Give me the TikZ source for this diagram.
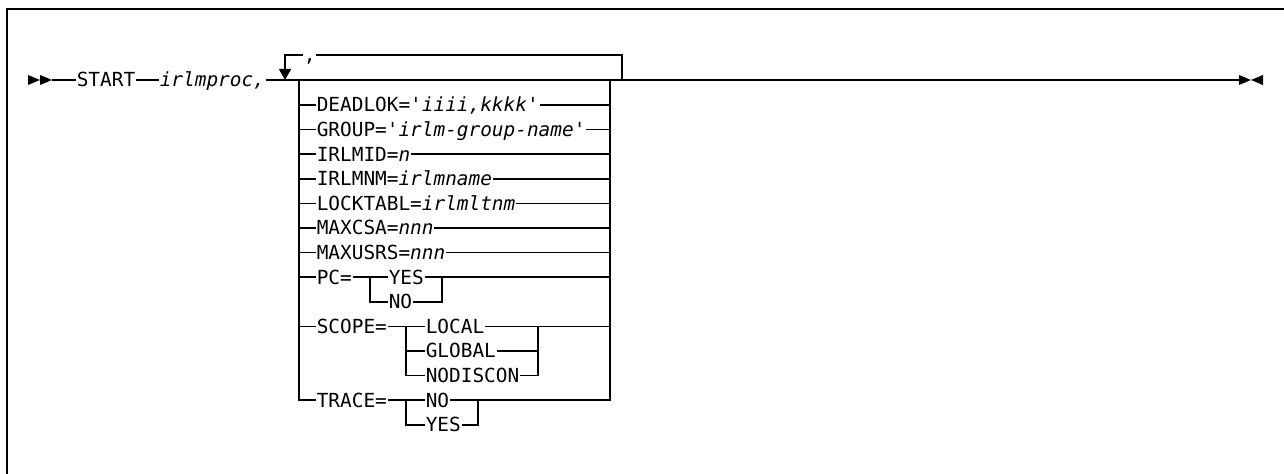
\documentclass[tikz,border=0pt]{standalone}
\usepackage{fontspec}
\setmonofont{DejaVu Sans Mono}
\usetikzlibrary{arrows.meta}

\begin{document}
\begin{tikzpicture}[x=0.5pt,y=-0.5pt,line width=0.8pt,
  kw/.style={inner sep=0pt,anchor=west,text height=7pt,text depth=0pt,
    font=\ttfamily\fontsize{9.7}{11}\selectfont},
  >={Triangle[length=5.5pt,width=6pt]}]
\useasboundingbox (0,0) rectangle (1284,474);
\draw[line width=1pt] (7,474) -- (7,9) -- (1284,9);

% main line
\coordinate (begin) at (52,80);
\coordinate (fin) at (1239,80);
\fill (begin) -- ++(-12,-5) -- ++(0,10) -- cycle;
\fill (begin) ++(-12,0) -- ++(-12,-5) -- ++(0,10) -- cycle;
\fill (fin) ++(0,-5) -- ++(12,5) -- ++(-12,5) -- cycle;
\fill (fin) ++(24,-5) -- ++(-12,5) -- ++(12,5) -- cycle;

\node[kw] (start) at (76,80) {START};
\node[kw] (proc) at (159,80) {\itshape irlmproc,};
\draw (begin) -- (start.west) (start.east) -- (proc.west) (proc.east) -- (fin);

% repeat loop
\coordinate (jl) at (285,80);
\coordinate (jr) at (622,80);
\node[kw] (sep) at (303,55) {,};
\draw (jr) |- (sep.east);
\draw[->] (sep.west) -| (jl);

% stack of options
\coordinate (sl) at (299,80);
\coordinate (sr) at (610,80);

\node[kw] (dead) at (316,105) {DEADLOK='\itshape iiii,kkkk\upshape'};
\node[kw] (group) at (316,129.6) {GROUP='\itshape irlm-group-name\upshape'};
\node[kw] (irlmid) at (316,154.2) {IRLMID=\itshape n};
\node[kw] (irlmnm) at (316,178.8) {IRLMNM=\itshape irlmname};
\node[kw] (locktabl) at (316,203.4) {LOCKTABL=\itshape irlmltnm};
\node[kw] (maxcsa) at (316,228) {MAXCSA=\itshape nnn};
\node[kw] (maxusrs) at (316,252.6) {MAXUSRS=\itshape nnn};

\draw (dead.west -| sl) -- (dead.west) (dead.east) -- (dead.east -| sr);
\draw (group.west -| sl) -- (group.west) (group.east) -- (group.east -| sr);
\draw (irlmid.west -| sl) -- (irlmid.west) (irlmid.east) -- (irlmid.east -| sr);
\draw (irlmnm.west -| sl) -- (irlmnm.west) (irlmnm.east) -- (irlmnm.east -| sr);
\draw (locktabl.west -| sl) -- (locktabl.west) (locktabl.east) -- (locktabl.east -| sr);
\draw (maxcsa.west -| sl) -- (maxcsa.west) (maxcsa.east) -- (maxcsa.east -| sr);
\draw (maxusrs.west -| sl) -- (maxusrs.west) (maxusrs.east) -- (maxusrs.east -| sr);

% PC
\node[kw] (pc) at (316,277.2) {PC=};
\node[kw] (pcyes) at (388,277.2) {YES};
\node[kw] (pcno) at (388,301.8) {NO};
\coordinate (pl) at (370,277.2);
\coordinate (pr) at (442,277.2);
\draw (pc.west -| sl) -- (pc.west) (pc.east) -- (pcyes.west) (pcyes.east) -- (pcyes.east -| sr);
\draw (pl) |- (pcno.west);
\draw (pcno.east) -| (pr);

% SCOPE
\node[kw] (scope) at (316,326.4) {SCOPE=};
\node[kw] (local) at (425,326.4) {LOCAL};
\node[kw] (global) at (425,351) {GLOBAL};
\node[kw] (nodiscon) at (425,375.6) {NODISCON};
\coordinate (cl) at (406,326.4);
\coordinate (cr) at (538,326.4);
\draw (scope.west -| sl) -- (scope.west) (scope.east) -- (local.west) (local.east) -- (local.east -| sr);
\draw (cl) |- (nodiscon.west);
\draw (global.west -| cl) -- (global.west);
\draw (nodiscon.east) -| (cr);
\draw (global.east) -- (global.east -| cr);

% TRACE
\node[kw] (trace) at (316,400.2) {TRACE=};
\node[kw] (traceno) at (425,400.2) {NO};
\node[kw] (traceyes) at (425,424.8) {YES};
\coordinate (tl) at (406,400.2);
\coordinate (tr) at (478,400.2);
\draw (sl) |- (trace.west);
\draw (sr) |- (traceno.east);
\draw (trace.east) -- (traceno.west);
\draw (tl) |- (traceyes.west);
\draw (traceyes.east) -| (tr);
\end{tikzpicture}
\end{document}
